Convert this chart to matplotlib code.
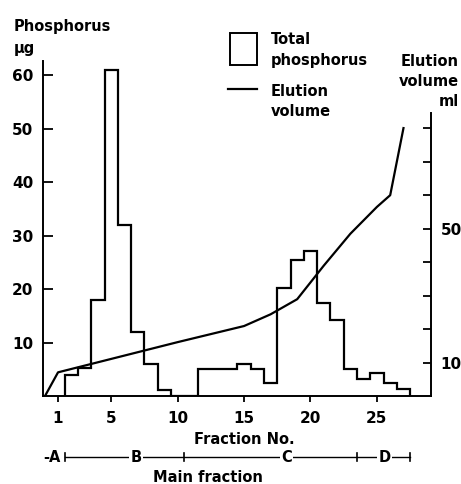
import numpy as np
import matplotlib
matplotlib.use("Agg")
import matplotlib.pyplot as plt
import matplotlib.transforms as mtransforms
from matplotlib.patches import Rectangle
from matplotlib.lines import Line2D

plt.rcParams["font.family"] = "DejaVu Sans"
plt.rcParams["font.weight"] = "bold"

# total phosphorus per fraction (ug)
fractions = list(range(2, 28))
phosphorus = [4.1, 5.3, 18, 61, 32, 12, 6, 1.3, 0, 0, 5.2, 5.2, 5.2, 6.1, 5.1, 2.5,
              20.2, 25.4, 27.2, 17.4, 14.2, 5.2, 3.3, 4.4, 2.5, 1.4]

# elution volume (ml)
elution_fraction = [0, 1, 5, 10, 15, 17, 19, 21, 23, 25, 26, 27]
elution_ml = [0, 7.2, 11.2, 16.2, 21, 24.5, 29, 39, 48.5, 56.5, 60, 80]

x_ticks = [1, 5, 10, 15, 20, 25]
left_ticks = [10, 20, 30, 40, 50, 60]
right_ticks = [10, 20, 30, 40, 50, 60, 70, 80]
right_tick_labels = ["10", "", "", "", "50", "", "", ""]

# fraction groups along the bottom
group_edges = [1.5, 10.5, 23.5, 27.5]
group_labels = ["-A", "B", "C", "D"]
group_label_x = [0.55, 6.9, 18.2, 25.6]

fig = plt.figure(figsize=(4.61, 4.84), dpi=100)
ax = fig.add_axes([0.0933, 0.1808, 0.8416, 0.6932])
ax2 = ax.twinx()

edges = np.append(np.array(fractions) - 0.5, fractions[-1] + 0.5)
ax.stairs(phosphorus, edges, baseline=0, fill=False, color="black", linewidth=1.6)
ax2.plot(elution_fraction, elution_ml, color="black", linewidth=1.6)

ax.set_xlim(-0.13, 29.07)
ax.set_ylim(0, 62.6)
ax2.set_ylim(0, 100)

ax.set_xticks(x_ticks)
ax.set_yticks(left_ticks)
ax2.set_yticks(right_ticks)
ax2.set_yticklabels(right_tick_labels)

for a in (ax, ax2):
    a.spines["top"].set_visible(False)
    for s in a.spines.values():
        s.set_linewidth(1.4)
ax.spines["right"].set_visible(False)
ax2.spines["left"].set_visible(False)
ax2.spines["bottom"].set_visible(False)
ax2.spines["right"].set_bounds(0, 84.5)

ax.tick_params(axis="y", direction="in", length=7, width=1.3, labelsize=11, pad=7)
ax.tick_params(axis="x", direction="out", length=4.5, width=1.3, labelsize=11, pad=6)
ax2.tick_params(axis="y", direction="in", length=6, width=1.3, labelsize=11, pad=7)

# axis headers
fig.text(14 / 461, 1 - 27 / 484, "Phosphorus", fontsize=10.5, va="center", ha="left")
fig.text(14 / 461, 1 - 48 / 484, "µg", fontsize=10.5, va="center", ha="left")
fig.text(459 / 461, 1 - 62 / 484, "Elution", fontsize=10.5, va="center", ha="right")
fig.text(459 / 461, 1 - 82 / 484, "volume", fontsize=10.5, va="center", ha="right")
fig.text(459 / 461, 1 - 101 / 484, "ml", fontsize=10.5, va="center", ha="right")

# legend
fig.add_artist(Rectangle((230 / 461, 1 - 65 / 484), 27 / 461, 32 / 484,
                         transform=fig.transFigure, fill=False, edgecolor="black", linewidth=1.4))
fig.text(271 / 461, 1 - 40 / 484, "Total", fontsize=10.5, va="center", ha="left")
fig.text(271 / 461, 1 - 60 / 484, "phosphorus", fontsize=10.5, va="center", ha="left")
fig.add_artist(Line2D([228 / 461, 257 / 461], [1 - 89 / 484, 1 - 89 / 484],
                      transform=fig.transFigure, color="black", linewidth=1.6))
fig.text(271 / 461, 1 - 91 / 484, "Elution", fontsize=10.5, va="center", ha="left")
fig.text(271 / 461, 1 - 111 / 484, "volume", fontsize=10.5, va="center", ha="left")

# x label and fraction groups
fig.text(244 / 461, 1 - 440 / 484, "Fraction No.", fontsize=10.5, va="center", ha="center")
trans = mtransforms.blended_transform_factory(ax.transData, fig.transFigure)
yb = 1 - 457 / 484
ax.plot([group_edges[0], group_edges[-1]], [yb, yb], transform=trans, color="black",
        linewidth=1.0, clip_on=False)
for e in group_edges:
    ax.plot([e, e], [yb - 4 / 484, yb + 4 / 484], transform=trans, color="black",
            linewidth=1.2, clip_on=False)
for lx, lab in zip(group_label_x, group_labels):
    ax.text(lx, yb, lab, transform=trans, fontsize=10.5, ha="center", va="center",
            bbox=dict(facecolor="white", edgecolor="none", pad=1.0), clip_on=False)
fig.text(208 / 461, 1 - 477 / 484, "Main fraction", fontsize=10.5, va="center", ha="center")

fig.savefig("out.png", dpi=100)
